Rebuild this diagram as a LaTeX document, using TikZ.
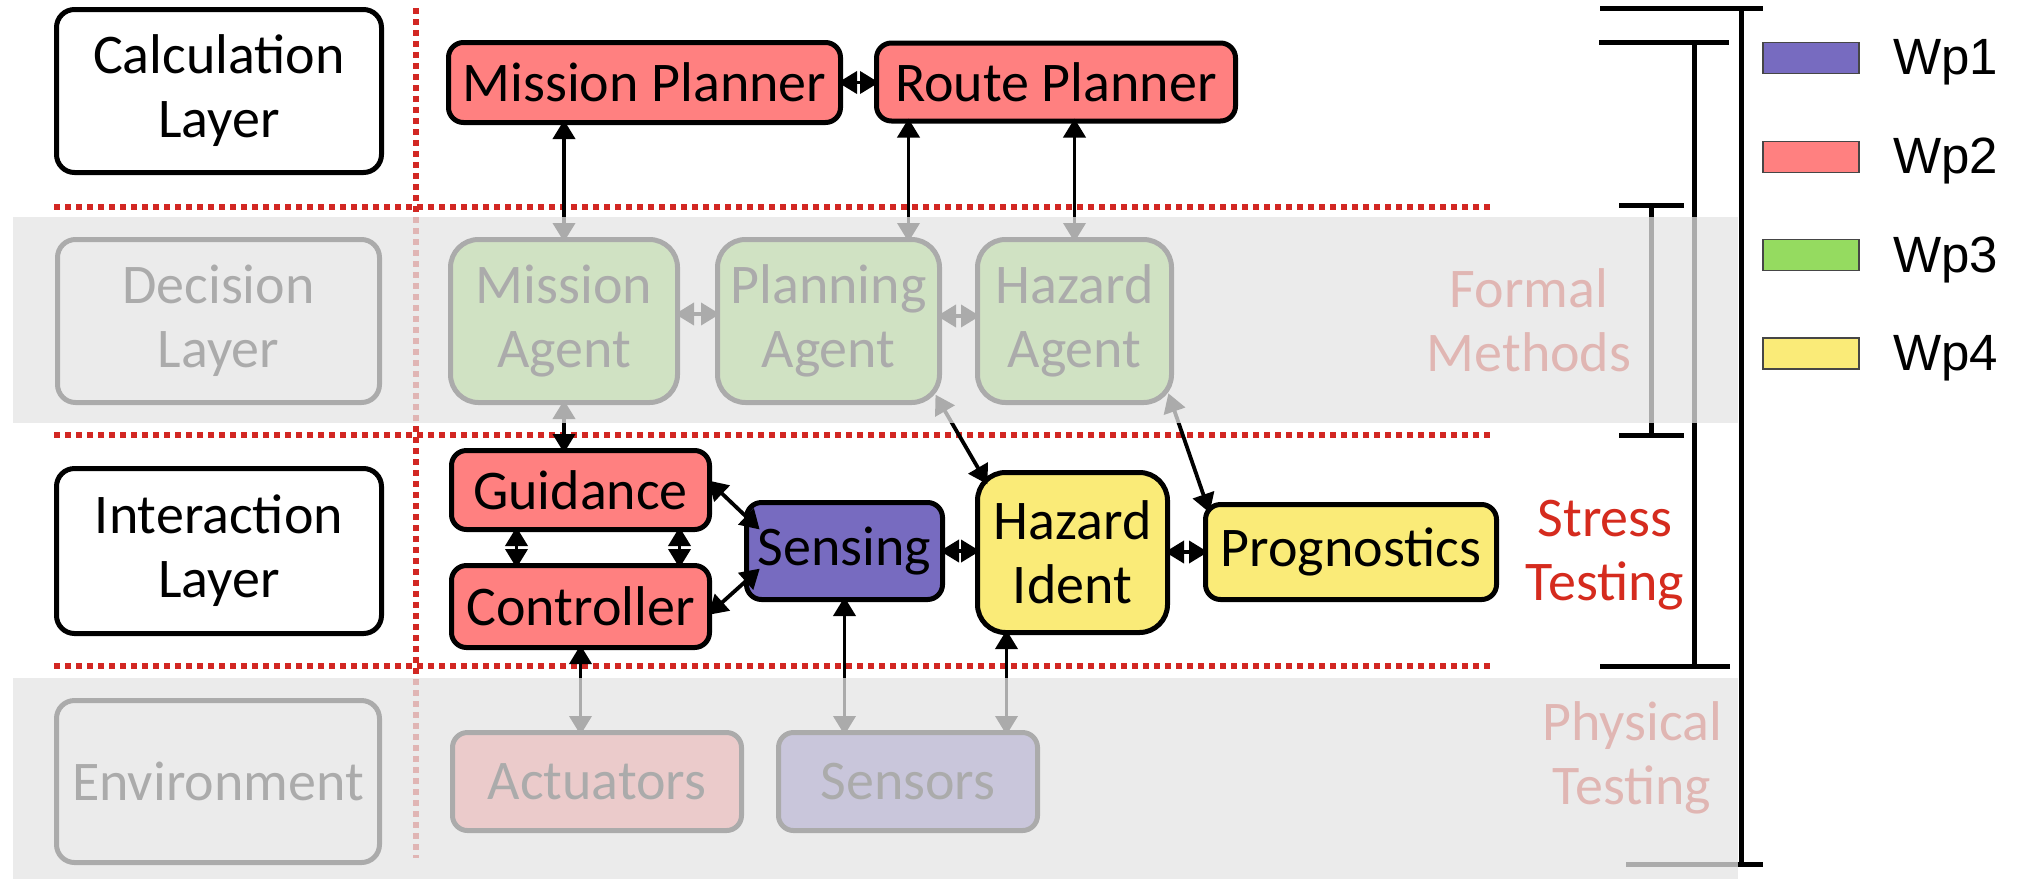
\documentclass[tikz,border=0pt]{standalone}
\usepackage{fontspec}
\setmainfont{Carlito}
\newfontfamily\legfont{Liberation Sans}
\usetikzlibrary{arrows.meta,calc}
\definecolor{wpred}{RGB}{255,128,128}
\definecolor{wppurple}{RGB}{119,107,192}
\definecolor{wpgreen}{RGB}{149,219,96}
\definecolor{wpyellow}{RGB}{250,235,120}
\definecolor{dotred}{RGB}{210,40,35}
\definecolor{stressred}{RGB}{213,43,30}
\definecolor{bandgray}{RGB}{229,229,229}
\definecolor{legborder}{RGB}{70,70,70}
\begin{document}
\begin{tikzpicture}[x=1pt,y=-1pt,
  box/.style={draw=black, line width=5pt, rounded corners=15pt, inner sep=0pt, align=center,
    font=\fontsize{56}{64}\selectfont},
  tallbox/.style={box, rounded corners=28pt},
  arr/.style={line width=3.8pt, {Triangle[length=19pt,width=22pt]}-{Triangle[length=19pt,width=22pt]},
    shorten <=-5pt, shorten >=-5pt},
  reddot/.style={draw=dotred, line width=5.5pt, dash pattern=on 6pt off 5pt},
  brk/.style={line width=5pt, black},
  sidetext/.style={align=center, inner sep=0pt, font=\fontsize{56}{64}\selectfont},
  swatch/.style={draw=legborder, line width=1.5pt, minimum width=96pt, minimum height=31pt, inner sep=0pt},
  legtext/.style={anchor=base west, inner sep=0pt, font=\legfont\fontsize{51}{60}\selectfont},
]
\useasboundingbox (0,0) rectangle (2020,879);
\fill[white] (0,0) rectangle (2020,879);

% red dotted separators
\draw[reddot] (54,207) -- (1494,207);
\draw[reddot] (54,435) -- (1494,435);
\draw[reddot] (54,666) -- (1494,666);
\draw[reddot] (416,8) -- (416,858);

% layer boxes
\node[box, rounded corners=18pt, minimum width=325pt, minimum height=163pt] (calc) at (219,91) {Calculation\\Layer};
\node[box, rounded corners=18pt, minimum width=322pt, minimum height=163pt] (dec) at (218.5,321) {Decision\\Layer};
\node[box, rounded corners=18pt, minimum width=325pt, minimum height=165pt] (inter) at (219,551) {Interaction\\Layer};
\node[box, rounded corners=18pt, minimum width=323pt, minimum height=162pt] (env) at (218,781.5) {Environment};

% component boxes
\node[box, fill=wpred, minimum width=392pt, minimum height=80pt] (MP) at (644.5,82.5) {Mission Planner};
\node[box, fill=wpred, minimum width=359pt, minimum height=78pt] (RP) at (1056,82) {Route Planner};
\node[tallbox, fill=wpgreen, minimum width=227pt, minimum height=163pt] (MA) at (564,321) {Mission\\Agent};
\node[tallbox, fill=wpgreen, minimum width=222pt, minimum height=163pt] (PA) at (828.5,321) {Planning\\Agent};
\node[tallbox, fill=wpgreen, minimum width=194pt, minimum height=163pt] (HA) at (1074.5,321) {Hazard\\Agent};
\node[box, fill=wpred, minimum width=258pt, minimum height=79pt] (Guid) at (580.5,490) {Guidance};
\node[box, fill=wpred, minimum width=258pt, minimum height=82pt] (Ctrl) at (580.5,606.5) {Controller};
\node[box, fill=wppurple, minimum width=196pt, minimum height=97pt] (Sens) at (844.5,551) {Sensing};
\node[tallbox, fill=wpyellow, minimum width=190pt, minimum height=160pt] (HI) at (1072.5,552.5) {Hazard\\Ident};
\node[box, fill=wpyellow, minimum width=291pt, minimum height=95pt] (Prog) at (1351,552) {Prognostics};
\node[box, fill=wpred, minimum width=289pt, minimum height=98pt] (Act) at (597,781.5) {Actuators};
\node[box, fill=wppurple, minimum width=259pt, minimum height=98pt] (Sensors) at (908,781.5) {Sensors};

% connectors
\draw[arr] (MP.east) -- (MP.east -| RP.west);
\draw[arr] (MP.south -| MA.north) -- (MA.north);
\draw[arr] ([xshift=80pt]PA.north |- RP.south) -- ([xshift=80pt]PA.north);
\draw[arr] (HA.north |- RP.south) -- (HA.north);
\draw[arr] ([yshift=7pt]MA.east) -- ([yshift=7pt]PA.west);
\draw[arr] ([yshift=5pt]PA.east) -- ([yshift=5pt]HA.west);
\draw[arr] (MA.south) -- (MA.south |- Guid.north);
\draw[arr] ([shift={(-4pt,6pt)}]PA.south east) -- ([shift={(10pt,-10pt)}]HI.north west);
\draw[arr] ([shift={(-4pt,7pt)}]HA.south east) -- ([shift={(5pt,-6pt)}]Prog.north west);
\draw[arr] ([xshift=-64pt]Guid.south) -- ([xshift=-64pt]Ctrl.north);
\draw[arr] ([xshift=99pt]Guid.south) -- ([xshift=99pt]Ctrl.north);
\draw[arr] ([yshift=6pt]Guid.east) -- ([shift={(12pt,-26pt)}]Sens.north west);
\draw[arr] ([yshift=-5pt]Ctrl.east) -- ([shift={(12pt,30pt)}]Sens.south west);
\draw[arr] (Sens.east) -- (Sens.east -| HI.west);
\draw[arr] (HI.east |- Prog.west) -- (Prog.west);
\draw[arr] (Ctrl.south) -- (Ctrl.south |- Act.north);
\draw[arr] (Sens.south) -- (Sens.south |- Sensors.north);
\draw[arr] ([xshift=-66pt]HI.south) -- ([xshift=-66pt]HI.south |- Sensors.north);

% side labels
\node[sidetext, text=stressred] (formal) at (1529,320) {Formal\\Methods};
\node[sidetext, text=stressred] (stress) at (1605,555) {Stress\\Testing};
\node[sidetext, text=stressred] (phys) at (1632,758) {Physical\\Testing};

% brackets
\draw[brk] (1600,8) -- (1763,8);
\draw[brk] (1741,8) -- (1741,864);
\draw[brk] (1626,864) -- (1763,864);
\draw[brk] (1599,42) -- (1729,42);
\draw[brk] (1694,42) -- (1694,666);
\draw[brk] (1600,666) -- (1730,666);
\draw[brk] (1619,205) -- (1684,205);
\draw[brk] (1651,205) -- (1651,435);
\draw[brk] (1619,435) -- (1684,435);

% faded bands
\fill[bandgray, opacity=0.75] (13,217) rectangle (1738,423);
\fill[bandgray, opacity=0.75] (13,678) rectangle (1738,879);

% legend
\node[swatch, fill=wppurple] (lg1) at (1811,58) {};
\node[swatch, fill=wpred] (lg2) at (1811,157) {};
\node[swatch, fill=wpgreen] (lg3) at (1811,255) {};
\node[swatch, fill=wpyellow] (lg4) at (1811,353.5) {};
\node[legtext] (lt1) at (1893,74) {Wp1};
\node[legtext] (lt2) at (1893,173) {Wp2};
\node[legtext] (lt3) at (1893,272) {Wp3};
\node[legtext] (lt4) at (1893,370) {Wp4};
\end{tikzpicture}
\end{document}
